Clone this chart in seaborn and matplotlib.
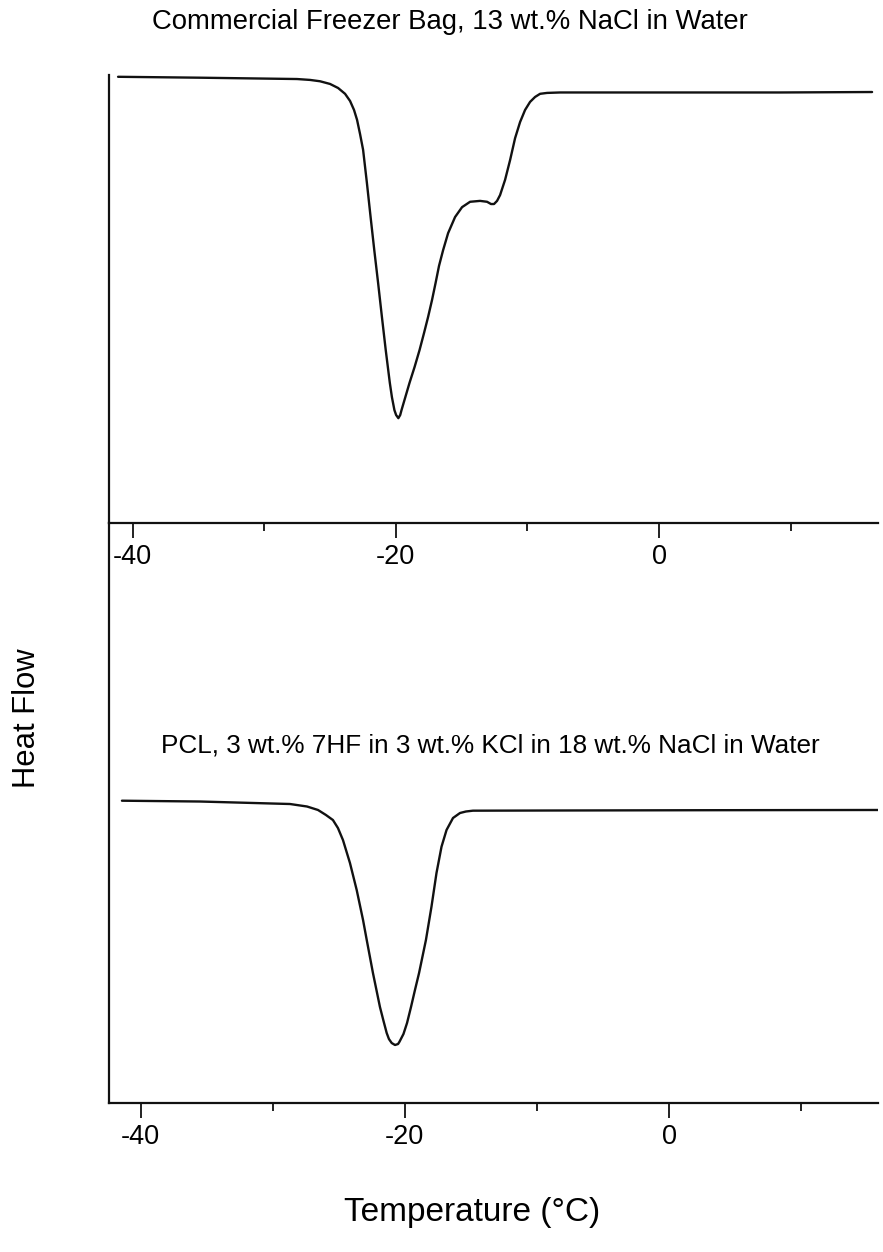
import matplotlib
matplotlib.use("Agg")
import matplotlib.pyplot as plt
import seaborn as sns
import pandas as pd

# ---- data ----
# Top: Commercial Freezer Bag, 13 wt.% NaCl in Water
top_temp = [-41.11, -34.95, -27.51, -26.52, -25.76, -25.00, -24.39, -23.86, -23.48, -23.18,
            -22.95, -22.72, -22.49, -22.20, -21.92, -21.64, -21.35, -21.06, -20.77, -20.46,
            -20.30, -20.11, -19.98, -19.81, -19.67, -19.57, -19.34, -18.96, -18.58, -18.20,
            -17.86, -17.55, -17.25, -16.98, -16.72, -16.41, -16.03, -15.50, -14.97, -14.36,
            -13.60, -13.07, -12.77, -12.54, -12.31, -12.08, -11.70, -11.32, -10.94, -10.56,
            -10.18, -9.80, -9.42, -9.04, -8.51, -7.52, -0.68, 9.19, 16.19]
top_flow = [9.96, 9.94, 9.91, 9.89, 9.86, 9.80, 9.71, 9.58, 9.42, 9.22,
            9.00, 8.68, 8.33, 7.59, 6.83, 6.09, 5.36, 4.60, 3.86, 3.13,
            2.81, 2.52, 2.41, 2.34, 2.41, 2.52, 2.75, 3.13, 3.48, 3.86,
            4.24, 4.60, 4.98, 5.36, 5.74, 6.09, 6.47, 6.83, 7.05, 7.17,
            7.19, 7.17, 7.12, 7.12, 7.19, 7.32, 7.66, 8.10, 8.59, 8.95,
            9.22, 9.40, 9.51, 9.58, 9.60, 9.61, 9.61, 9.61, 9.62]

# Bottom: PCL, 3 wt.% 7HF in 3 wt.% KCl in 18 wt.% NaCl in Water
bot_temp = [-41.41, -35.50, -28.69, -27.40, -26.57, -25.97, -25.44, -25.06, -24.68, -24.15,
            -23.64, -23.16, -22.88, -22.41, -21.88, -21.61, -21.37, -21.20, -20.99, -20.74,
            -20.51, -20.40, -20.10, -19.83, -19.53, -19.23, -18.92, -18.40, -17.98, -17.60,
            -17.22, -16.84, -16.35, -15.82, -15.37, -14.84, -9.01, 2.35, 15.82]
bot_flow = [5.212, 5.198, 5.155, 5.112, 5.052, 4.966, 4.879, 4.741, 4.534, 4.138,
            3.672, 3.155, 2.810, 2.241, 1.655, 1.414, 1.207, 1.103, 1.034, 1.000,
            1.017, 1.057, 1.190, 1.379, 1.655, 1.948, 2.241, 2.810, 3.384, 3.966,
            4.419, 4.707, 4.914, 5.000, 5.026, 5.040, 5.043, 5.048, 5.052]

major_ticks = [-40, -20, 0]
minor_ticks = [-30, -10, 10]
top_title = "Commercial Freezer Bag, 13 wt.% NaCl in Water"
bot_title = "PCL, 3 wt.% 7HF in 3 wt.% KCl in 18 wt.% NaCl in Water"
xlabel = "Temperature (°C)"
ylabel = "Heat Flow"

# ---- style ----
sns.set_style("ticks")
plt.rcParams["font.family"] = ["Liberation Sans", "DejaVu Sans"]
plt.rcParams["text.color"] = "black"

W, H = 883, 1252
fig = plt.figure(figsize=(W / 100, H / 100), dpi=100)

def frac_rect(x0, y0, x1, y1):
    return [x0 / W, 1 - y1 / H, (x1 - x0) / W, (y1 - y0) / H]

ax_top = fig.add_axes(frac_rect(109, 75, 878, 523))
ax_bot = fig.add_axes(frac_rect(109, 523, 878, 1103))

df_top = pd.DataFrame({"T": top_temp, "HF": top_flow})
df_bot = pd.DataFrame({"T": bot_temp, "HF": bot_flow})

for ax, df in ((ax_top, df_top), (ax_bot, df_bot)):
    sns.lineplot(data=df, x="T", y="HF", ax=ax, color="#111111",
                 lw=1.7, estimator=None, sort=False,
                 solid_joinstyle="round", solid_capstyle="round")

for ax, xl in ((ax_top, (-41.8, 16.64)), (ax_bot, (-42.39, 15.82))):
    ax.set_xlim(*xl)
    ax.set_ylim(0, 10)
    ax.set_xticks(major_ticks)
    ax.set_xticks(minor_ticks, minor=True)
    ax.set_xticklabels([str(t) for t in major_ticks])
    ax.set_yticks([])
    ax.set_xlabel("")
    ax.set_ylabel("")
    for s in ("top", "right"):
        ax.spines[s].set_visible(False)
    for s in ("left", "bottom"):
        ax.spines[s].set_linewidth(1.6)
        ax.spines[s].set_color("#111111")
    ax.tick_params(axis="x", which="major", length=11, width=1.3,
                   direction="out", labelsize=19.5, pad=4,
                   color="#111111", labelcolor="black")
    ax.tick_params(axis="x", which="minor", length=6, width=1.3,
                   direction="out", color="#111111")
    ax.patch.set_alpha(0)

fig.text(450 / W, 1 - 22 / H, top_title, ha="center", va="center",
         fontsize=19.8, color="black")
fig.text(490 / W, 1 - 746 / H, bot_title, ha="center", va="center",
         fontsize=18.8, color="black")
fig.text(27 / W, 1 - 718 / H, ylabel, ha="center", va="center", rotation=90,
         fontsize=22.3, color="black")
fig.text(472 / W, 1 - 1212 / H, xlabel, ha="center", va="center",
         fontsize=24, color="black")

fig.savefig("out.png", dpi=100, facecolor="white")
